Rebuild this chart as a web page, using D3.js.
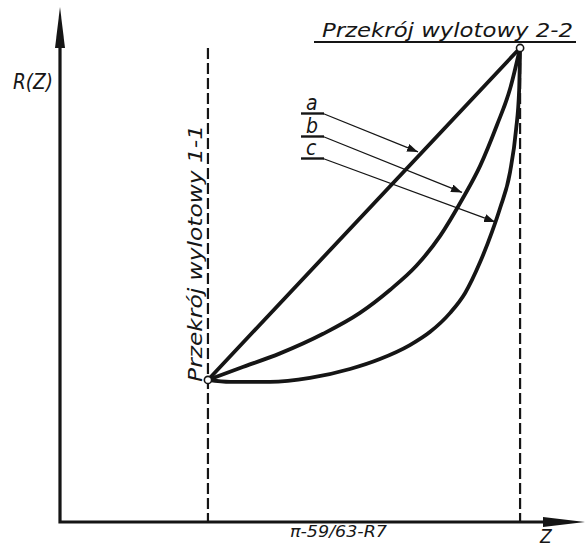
<!DOCTYPE html>
<html>
<head>
<meta charset="utf-8">
<script src="https://cdn.jsdelivr.net/npm/d3@7"></script>
<style>
  body { margin: 0; background: #fff; }
  svg { display: block; }
  .lbl { font-family: "Liberation Sans Narrow", "DejaVu Sans Condensed", "DejaVu Sans", sans-serif; font-style: italic; fill: #161616; }
</style>
</head>
<body>
<svg></svg>
<script>
// z / R(z) in relative units: section 1-1 at z=1, section 2-2 at z=2
const axisZ = [0.526, 2.208];
const axisR = [0.572, 2.1235];
const sectionZ = [1, 2];
const sectionR = [1, 2];
const sectionNames = ['Przekrój wylotowy 1-1', 'Przekrój wylotowy 2-2'];

const curveNames = ['a', 'b', 'c'];
const curveA = [[1, 1], [2, 2]];
const curveB = [[1, 1], [1.103, 1.036], [1.231, 1.080], [1.369, 1.139], [1.487, 1.202], [1.583, 1.271],
  [1.667, 1.343], [1.744, 1.434], [1.817, 1.548], [1.872, 1.645], [1.926, 1.768], [1.968, 1.877], [2, 2]];
const curveC = [[1, 1], [1.071, 0.994], [1.199, 0.994], [1.327, 1.006], [1.455, 1.033], [1.551, 1.063],
  [1.647, 1.105], [1.712, 1.145], [1.776, 1.202], [1.824, 1.262], [1.872, 1.355], [1.910, 1.446],
  [1.936, 1.518], [1.968, 1.627], [1.987, 1.753], [1.997, 1.873], [2, 2]];
// where the leader arrows of a, b, c touch their curves
const arrowTips = [[1.673, 1.687], [1.814, 1.565], [1.920, 1.476]];

const axisLabelR = 'R(Z)';
const axisLabelZ = 'Z';
const figureNote = 'π-59/63-R7';

const width = 588, height = 548;
const svg = d3.select('svg').attr('width', width).attr('height', height);

const render = () => {
  const xScale = d3.scaleLinear().domain(axisZ).range([60, 585]);
  const yScale = d3.scaleLinear().domain(axisR).range([522, 7]);
  const ink = '#151515';

  const defs = svg.append('defs');
  defs.append('marker')
      .attr('id', 'tip')
      .attr('markerUnits', 'userSpaceOnUse')
      .attr('markerWidth', 12).attr('markerHeight', 8)
      .attr('refX', 11).attr('refY', 4)
      .attr('orient', 'auto')
    .append('path')
      .attr('d', 'M0,0 L11,4 L0,8 Z')
      .attr('fill', ink);

  const g = svg.append('g');

  // section lines (dashed)
  g.selectAll('.section').data(sectionZ).enter().append('line')
      .attr('class', 'section')
      .attr('x1', d => xScale(d)).attr('x2', d => xScale(d))
      .attr('y1', yScale(sectionR[1])).attr('y2', yScale(axisR[0]))
      .attr('stroke', ink).attr('stroke-width', 2.2)
      .attr('stroke-dasharray', '11,4');

  // axes
  const x0 = xScale(axisZ[0]), y0 = yScale(axisR[0]);
  const xEnd = xScale(axisZ[1]), yEnd = yScale(axisR[1]);
  g.append('path')
      .attr('d', `M${x0},${yEnd + 38}L${x0},${y0}L${xEnd - 40},${y0}`)
      .attr('fill', 'none').attr('stroke', ink).attr('stroke-width', 3.2);
  g.append('path')
      .attr('d', `M${x0 - 5},${yEnd + 41}L${x0},${yEnd}L${x0 + 5},${yEnd + 41}Z`)
      .attr('fill', ink);
  g.append('path')
      .attr('d', `M${xEnd - 42},${y0 - 5}L${xEnd},${y0}L${xEnd - 42},${y0 + 5}Z`)
      .attr('fill', ink);

  // curves a, b, c
  const lineGenerator = d3.line()
      .x(d => xScale(d[0]))
      .y(d => yScale(d[1]))
      .curve(d3.curveMonotoneX);
  g.selectAll('.curve').data([curveA, curveB, curveC]).enter().append('path')
      .attr('class', 'curve')
      .attr('d', lineGenerator)
      .attr('fill', 'none').attr('stroke', ink)
      .attr('stroke-width', 3.8).attr('stroke-linecap', 'round');

  // end points
  g.selectAll('.node').data(sectionZ).enter().append('circle')
      .attr('class', 'node')
      .attr('cx', d => xScale(d)).attr('cy', (d, i) => yScale(sectionR[i]))
      .attr('r', 3.6)
      .attr('fill', '#fff').attr('stroke', ink).attr('stroke-width', 1.6);

  // a, b, c labels with leaders
  const labelY = [110, 133, 155];
  curveNames.forEach((name, i) => {
    g.append('text').attr('class', 'lbl')
        .attr('x', 306).attr('y', labelY[i])
        .attr('font-size', 21)
        .text(name);
    g.append('line')
        .attr('x1', 301).attr('x2', 324)
        .attr('y1', labelY[i] + 3.5).attr('y2', labelY[i] + 3.5)
        .attr('stroke', ink).attr('stroke-width', 2.4);
    g.append('line')
        .attr('x1', 323).attr('y1', labelY[i] + 3.5)
        .attr('x2', xScale(arrowTips[i][0])).attr('y2', yScale(arrowTips[i][1]))
        .attr('stroke', ink).attr('stroke-width', 1.3)
        .attr('marker-end', 'url(#tip)');
  });

  // section titles
  g.append('text').attr('class', 'lbl')
      .attr('transform', `translate(${xScale(sectionZ[0]) - 6},${yScale(sectionR[0]) + 2}) rotate(-90)`)
      .attr('font-size', 19)
      .attr('textLength', 257).attr('lengthAdjust', 'spacingAndGlyphs')
      .text(sectionNames[0]);
  g.append('text').attr('class', 'lbl')
      .attr('x', 322).attr('y', 37)
      .attr('font-size', 19)
      .attr('textLength', 251).attr('lengthAdjust', 'spacingAndGlyphs')
      .text(sectionNames[1]);
  g.append('line')
      .attr('x1', 314).attr('x2', 576).attr('y1', 42).attr('y2', 42)
      .attr('stroke', ink).attr('stroke-width', 2.2);

  // axis titles and figure note
  g.append('text').attr('class', 'lbl')
      .attr('x', 13).attr('y', 89)
      .attr('font-size', 21)
      .attr('textLength', 40).attr('lengthAdjust', 'spacingAndGlyphs')
      .text(axisLabelR);
  g.append('text').attr('class', 'lbl')
      .attr('x', 540).attr('y', 543)
      .attr('font-size', 19)
      .text(axisLabelZ);
  g.append('text').attr('class', 'lbl')
      .attr('x', 290).attr('y', 537)
      .attr('font-size', 15)
      .attr('textLength', 97).attr('lengthAdjust', 'spacingAndGlyphs')
      .attr('fill', '#333')
      .text(figureNote);
};

render();
</script>
</body>
</html>
